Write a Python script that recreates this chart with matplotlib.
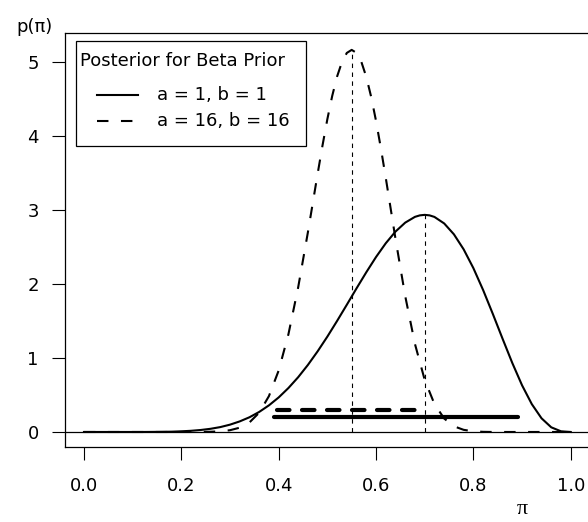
import matplotlib

matplotlib.use("Agg")
import matplotlib.pyplot as plt
from matplotlib.lines import Line2D
from matplotlib.patches import Rectangle

plt.rcParams["font.family"] = ["DejaVu Sans"]
FS = 13

# density grid (pi from 0 to 1 in steps of 0.02)
grid = [i / 50 for i in range(51)]
post_flat = [0.000, 0.000, 0.000, 0.000, 0.000, 0.000, 0.000, 0.001, 0.002, 0.004,
             0.009, 0.016, 0.027, 0.043, 0.066, 0.099, 0.143, 0.199, 0.271, 0.360,
             0.467, 0.594, 0.740, 0.906, 1.090, 1.289, 1.501, 1.720, 1.942, 2.159,
             2.365, 2.551, 2.709, 2.830, 2.908, 2.935, 2.907, 2.819, 2.672, 2.469,
             2.215, 1.919, 1.595, 1.260, 0.932, 0.631, 0.377, 0.185, 0.063, 0.009,
             0.000]
post_beta16 = [0.000, 0.000, 0.000, 0.000, 0.000, 0.000, 0.000, 0.000, 0.000, 0.000,
               0.000, 0.000, 0.001, 0.003, 0.009, 0.024, 0.058, 0.129, 0.261, 0.485,
               0.831, 1.320, 1.953, 2.698, 3.489, 4.228, 4.805, 5.124, 5.124, 4.800,
               4.205, 3.436, 2.611, 1.836, 1.189, 0.704, 0.378, 0.182, 0.077, 0.029,
               0.009, 0.002, 0.000, 0.000, 0.000, 0.000, 0.000, 0.000, 0.000, 0.000,
               0.000]
# extra points near the peaks so the tops stay round
flat_extra_x = [0.69, 0.71]
flat_extra_y = [2.928, 2.928]
beta16_extra_x = [0.47, 0.49, 0.51, 0.53, 0.55, 0.57, 0.59, 0.61, 0.63]
beta16_extra_y = [3.093, 3.871, 4.543, 5.001, 5.165, 5.000, 4.530, 3.834, 3.023]

modes = [0.55, 0.70]
mode_heights = [5.165, 2.935]
ci_flat = [0.391, 0.891]
ci_beta16 = [0.397, 0.694]
ci_levels = [0.2, 0.3]

xticks = [0.0, 0.2, 0.4, 0.6, 0.8, 1.0]
yticks = [0, 1, 2, 3, 4, 5]

W, H = 588, 522


def px(x, y):
    return x / W, 1 - y / H


def merged(xa, ya, xb, yb):
    pts = sorted(zip(list(xa) + list(xb), list(ya) + list(yb)))
    return [p[0] for p in pts], [p[1] for p in pts]


fig = plt.figure(figsize=(W / 100, H / 100), dpi=100)
left, right, top, bottom = 64.5, 590.2, 32.5, 446.7
ax = fig.add_axes([left / W, 1 - bottom / H, (right - left) / W, (bottom - top) / H])

x1, y1 = merged(grid, post_flat, flat_extra_x, flat_extra_y)
x2, y2 = merged(grid, post_beta16, beta16_extra_x, beta16_extra_y)

ax.plot(x1, y1, color="black", lw=1.5)
ax.plot(x2, y2, color="black", lw=1.5, dashes=(5.5, 6))
ax.axhline(0, color="black", lw=0.9)
ax.vlines(modes, 0, mode_heights, color="black", lw=0.8, linestyles=(0, (4, 4)))
ax.plot(ci_flat, [ci_levels[0]] * 2, color="black", lw=3, solid_capstyle="round")
ax.plot(ci_beta16, [ci_levels[1]] * 2, color="black", lw=3, dashes=(3, 3),
        dash_capstyle="round")

ax.set_xlim(-0.04, 1.04)
ax.set_ylim(-0.199, 5.40)
ax.set_xticks(xticks, [f"{t:.1f}" for t in xticks])
ax.set_yticks(yticks, [str(t) for t in yticks])
ax.tick_params(axis="both", direction="out", length=9.5, width=0.8, labelsize=FS,
               color="black")
ax.tick_params(axis="x", pad=12)
ax.tick_params(axis="y", pad=9)
for side in ["left", "top", "bottom", "right"]:
    ax.spines[side].set_linewidth(0.9)
    ax.spines[side].set_color("black")

fig.text(*px(35, 27), "p(π)", fontsize=FS, ha="center", va="center")
fig.text(*px(522, 510), "π", fontsize=16, family="Liberation Serif",
         ha="center", va="center")

# legend drawn by hand, R style
fig.add_artist(Rectangle(px(75.7, 146), (306 - 75.7) / W, (146 - 41) / H,
                         transform=fig.transFigure, fill=True, facecolor="white",
                         edgecolor="black", lw=0.9))
fig.text(*px(80, 61), "Posterior for Beta Prior", fontsize=FS, ha="left", va="center")
for yy, lab, ls in [(95, "a = 1, b = 1", "-"), (121, "a = 16, b = 16", "--")]:
    lx0, ly0 = px(97, yy)
    lx1, _ = px(138, yy)
    ln = Line2D([lx0, lx1], [ly0, ly0], transform=fig.transFigure, color="black", lw=1.5)
    if ls == "--":
        ln.set_dashes((5.5, 6))
    fig.add_artist(ln)
    fig.text(*px(157, yy), lab, fontsize=FS, ha="left", va="center")

fig.savefig("out.png", dpi=100)
